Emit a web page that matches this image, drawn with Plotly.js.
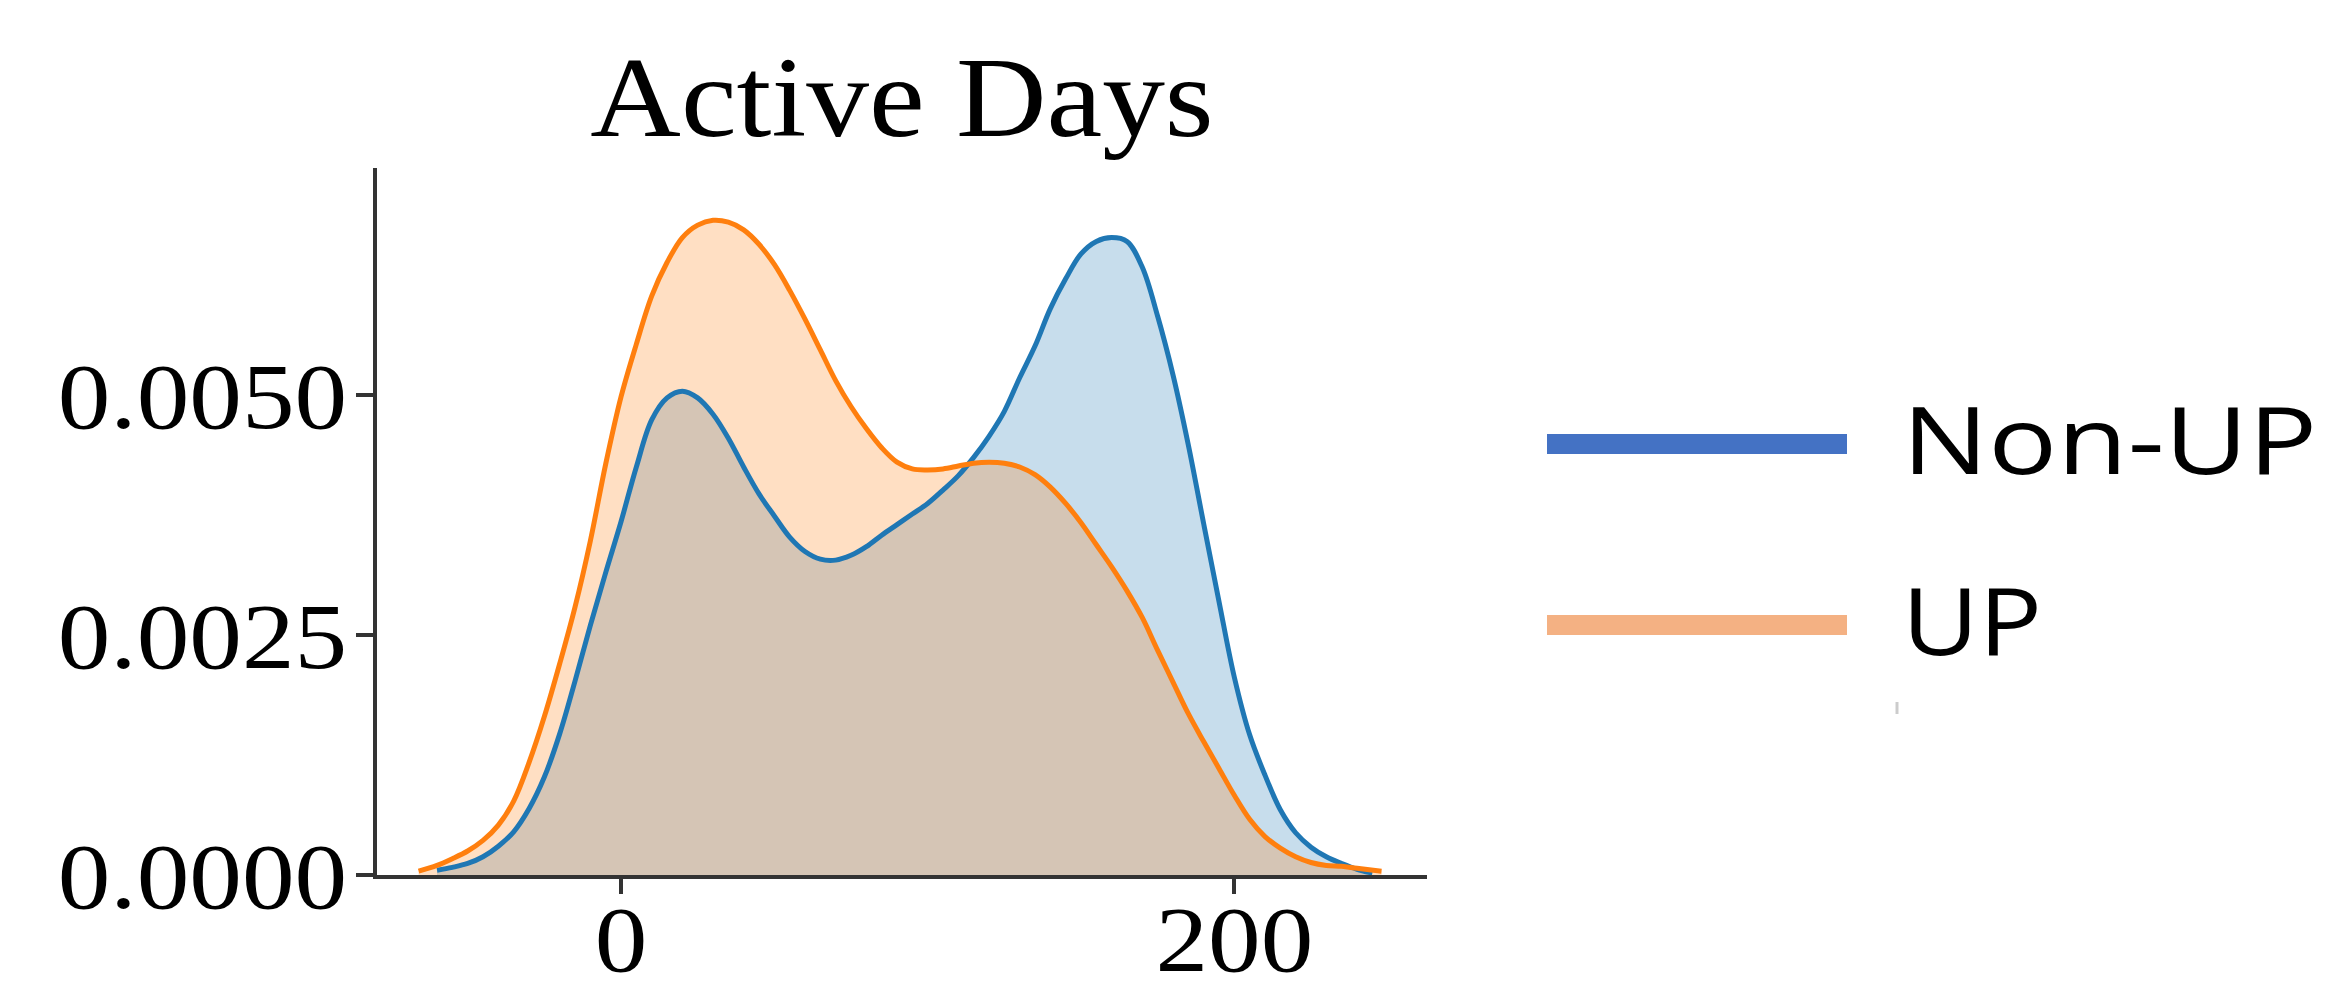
<!DOCTYPE html>
<html>
<head>
<meta charset="utf-8">
<script src="https://cdn.plot.ly/plotly-3.0.1.min.js"></script>
<style>html,body{margin:0;padding:0;background:#fff;}#chart{width:2326px;height:988px;}</style>
</head>
<body>
<div id="chart"></div>
<script>
// ---- data (KDE curves of Active Days) ----
const seriesNames = ["Non-UP", "UP"];
const nonUpX = [-60,-55,-50,-45,-40,-35,-30,-25,-20,-15,-10,-5,0,5,10,15,20,25,30,35,40,45,50,55,60,65,70,75,80,85,90,95,100,105,110,115,120,125,130,135,140,145,150,155,160,165,170,175,180,185,190,195,200,205,210,215,220,225,230,235,240,245];
const nonUpY = [0.00005,0.00008,0.00012,0.00019,0.0003,0.00045,0.00069,0.00102,0.00147,0.00202,0.0026,0.00315,0.00368,0.00425,0.00474,0.00497,0.00504,0.00497,0.0048,0.00455,0.00425,0.00397,0.00374,0.00352,0.00337,0.00329,0.00328,0.00333,0.00342,0.00354,0.00365,0.00376,0.00387,0.00401,0.00416,0.00435,0.00457,0.00483,0.00518,0.00551,0.0059,0.00621,0.00647,0.0066,0.00664,0.0066,0.00633,0.00582,0.00521,0.00448,0.00366,0.00285,0.00206,0.00146,0.00104,0.00068,0.00044,0.00029,0.00019,0.00012,0.00006,0.00002];
const upX = [-66,-60,-55,-50,-45,-40,-35,-30,-25,-20,-15,-10,-5,0,5,10,15,20,25,30,35,40,45,50,55,60,65,70,75,80,85,90,95,100,105,110,115,120,125,130,135,140,145,150,155,160,165,170,175,180,185,190,195,200,205,210,215,220,225,230,235,240,248];
const upY = [0.00004,0.0001,0.00017,0.00025,0.00036,0.00052,0.00077,0.00117,0.00165,0.0022,0.00279,0.00348,0.00428,0.00498,0.00553,0.00603,0.00638,0.00664,0.00677,0.00682,0.0068,0.00672,0.00657,0.00636,0.00609,0.00579,0.00547,0.00515,0.00488,0.00465,0.00445,0.0043,0.00423,0.00422,0.00423,0.00426,0.00429,0.0043,0.00429,0.00425,0.00417,0.00404,0.00387,0.00367,0.00344,0.00321,0.00296,0.00268,0.00234,0.00201,0.00168,0.00139,0.00111,0.00083,0.00058,0.0004,0.00028,0.00019,0.00013,0.0001,0.00009,0.00007,0.00004];
const xTickVals = [0, 200];
const xTickText = ["0", "200"];
const yTickVals = [0, 0.0025, 0.005];
const yTickText = ["0.0000", "0.0025", "0.0050"];
const titleText = "Active Days";

// ---- layout geometry (pixels) ----
const W = 2326, H = 988;
const M = {l: 377, r: 899, t: 168, b: 113};
const plotW = W - M.l - M.r, plotH = H - M.t - M.b;
const px = x => (x - M.l) / plotW;
const py = y => (H - M.b - y) / plotH;

const lineCols = ["#1f77b4", "#ff7f0e"];
const fillCols = ["rgba(31,119,180,0.25)", "rgba(255,127,14,0.25)"];
const legendCols = ["#4472c4", "#f4b183"];
const seriesX = [nonUpX, upX];
const seriesY = [nonUpY, upY];

const traces = [];
// fills first (Non-UP under UP), then outlines on top
[0, 1].forEach(i => traces.push({x: seriesX[i], y: seriesY[i], name: seriesNames[i],
  type: "scatter", mode: "lines", line: {width: 0, shape: "spline", smoothing: 1},
  fill: "tozeroy", fillcolor: fillCols[i], showlegend: false, hoverinfo: "skip"}));
[0, 1].forEach(i => traces.push({x: seriesX[i], y: seriesY[i], name: seriesNames[i],
  type: "scatter", mode: "lines", line: {color: lineCols[i], width: 5, shape: "spline", smoothing: 1},
  showlegend: false, hoverinfo: "skip"}));

const axisCol = "#333333";
const serif = "Liberation Serif, Times New Roman, serif";
const tickFont = {family: serif, size: 94, color: "#000"};

const legendRows = [444, 625];
const legendStretch = [1.22, 1.12];
const shapes = [];
const annotations = [];
seriesNames.forEach((n, i) => {
  const yc = legendRows[i];
  shapes.push({type: "rect", xref: "paper", yref: "paper",
    x0: px(1547), x1: px(1847), y0: py(yc - 10), y1: py(yc + 10),
    fillcolor: legendCols[i], line: {width: 0}});
  annotations.push({xref: "paper", yref: "paper", x: px(1900), y: py(yc - 6),
    xanchor: "left", yanchor: "middle", showarrow: false, text: n,
    font: {family: "Open Sans, Noto Sans, sans-serif", size: 94, color: "#000"}});
});
// small grey mark below legend
shapes.push({type: "line", xref: "paper", yref: "paper",
  x0: px(1897), x1: px(1897), y0: py(702), y1: py(714), line: {color: "#cccccc", width: 3}});

const layout = {
  width: W, height: H,
  margin: M,
  paper_bgcolor: "#fff", plot_bgcolor: "#fff",
  showlegend: false,
  title: {text: titleText, xref: "paper", x: 0.5, xanchor: "center",
          yref: "container", y: 1 - 96 / H, yanchor: "middle",
          font: {family: serif, size: 114, color: "#000"}},
  xaxis: {range: [-79.57, 262.83], tickvals: xTickVals, ticktext: xTickText,
          showgrid: false, zeroline: false, showline: true, linecolor: axisCol, linewidth: 4,
          ticks: "outside", ticklen: 15, tickwidth: 4, tickcolor: axisCol, tickfont: tickFont,
          ticklabelstandoff: -36},
  yaxis: {range: [0, 0.0073646], tickvals: yTickVals, ticktext: yTickText,
          showgrid: false, zeroline: false, showline: true, linecolor: axisCol, linewidth: 4,
          ticks: "outside", ticklen: 17, tickwidth: 4, tickcolor: axisCol, tickfont: tickFont,
          ticklabelstandoff: -10},
  shapes: shapes,
  annotations: annotations
};

// horizontal stretch of text (the reference's lettering is wider than the font)
function stretch(el, s, anchor) {
  const bb = el.getBBox();
  const ox = anchor === "left" ? bb.x : anchor === "right" ? bb.x + bb.width : bb.x + bb.width / 2;
  const t = el.getAttribute("transform") || "";
  el.setAttribute("transform", t + " translate(" + ox + ",0) scale(" + s + ",1) translate(" + (-ox) + ",0)");
}

Plotly.newPlot("chart", traces, layout, {staticPlot: true, displayModeBar: false}).then(gd => {
  gd.querySelectorAll(".gtitle").forEach(el => stretch(el, 1.10, "center"));
  gd.querySelectorAll("g.xtick text").forEach(el => stretch(el, 1.12, "center"));
  gd.querySelectorAll("g.ytick text").forEach(el => stretch(el, 1.12, "right"));
  gd.querySelectorAll("g.annotation").forEach(g => {
    const idx = +g.getAttribute("data-index");
    const el = g.querySelector("text.annotation-text");
    if (el) stretch(el, legendStretch[idx] || 1, "left");
  });
});
</script>
</body>
</html>
